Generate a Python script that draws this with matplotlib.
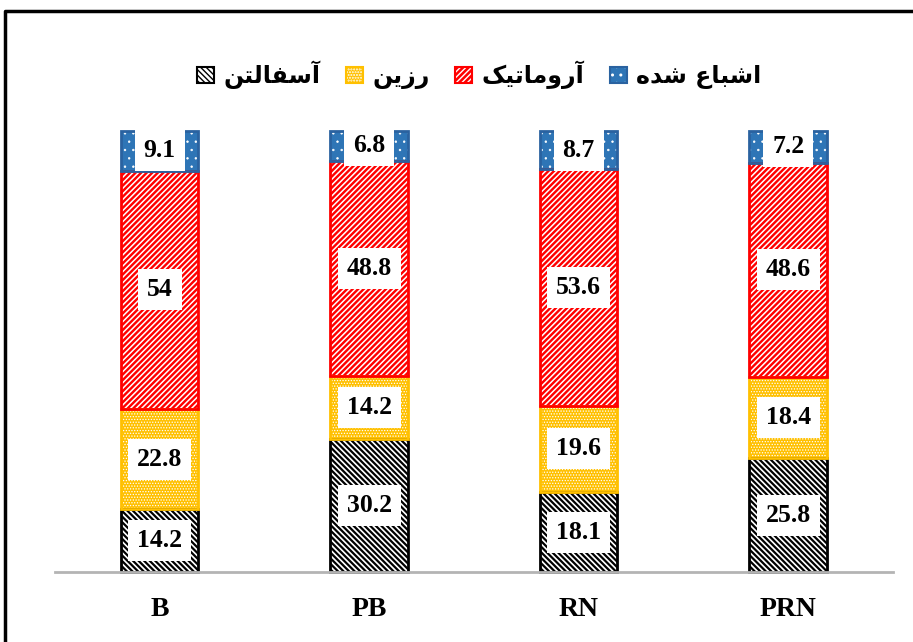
import matplotlib
matplotlib.use("Agg")
import matplotlib.pyplot as plt
import numpy as np
from matplotlib.patches import Patch
from matplotlib.lines import Line2D
from matplotlib.legend_handler import HandlerTuple

# ---------------- data ----------------
categories = ['B', 'PB', 'RN', 'PRN']
asphaltene = [14.2, 30.2, 18.1, 25.8]
resin = [22.8, 14.2, 19.6, 18.4]
aromatic = [54, 48.8, 53.6, 48.6]
saturated = [9.1, 6.8, 8.7, 7.2]
series_names = ['آسفالتن', 'رزین', 'آروماتیک', 'اشباع شده']

# ---------------- minimal Arabic/Persian shaping (visual order) ----------------
FORMS = {
    'ا': (0xFE8D, 0xFE8E, None, None),
    'آ': (0xFE81, 0xFE82, None, None),
    'ش': (0xFEB5, 0xFEB6, 0xFEB7, 0xFEB8),
    'ب': (0xFE8F, 0xFE90, 0xFE91, 0xFE92),
    'ع': (0xFEC9, 0xFECA, 0xFECB, 0xFECC),
    'د': (0xFEA9, 0xFEAA, None, None),
    'ه': (0xFEE9, 0xFEEA, 0xFEEB, 0xFEEC),
    'ر': (0xFEAD, 0xFEAE, None, None),
    'و': (0xFEED, 0xFEEE, None, None),
    'م': (0xFEE1, 0xFEE2, 0xFEE3, 0xFEE4),
    'ت': (0xFE95, 0xFE96, 0xFE97, 0xFE98),
    'ی': (0xFBFC, 0xFBFD, 0xFBFE, 0xFBFF),
    'ک': (0xFB8E, 0xFB8F, 0xFB90, 0xFB91),
    'ز': (0xFEAF, 0xFEB0, None, None),
    'ن': (0xFEE5, 0xFEE6, 0xFEE7, 0xFEE8),
    'س': (0xFEB1, 0xFEB2, 0xFEB3, 0xFEB4),
    'ف': (0xFED1, 0xFED2, 0xFED3, 0xFED4),
    'ل': (0xFEDD, 0xFEDE, 0xFEDF, 0xFEE0),
}


def shape(text):
    out = []
    for i, ch in enumerate(text):
        if ch not in FORMS:
            out.append(ch)
            continue
        prev = text[i - 1] if i > 0 else None
        nxt = text[i + 1] if i + 1 < len(text) else None
        jp = prev in FORMS and FORMS[prev][2] is not None
        jn = FORMS[ch][2] is not None and nxt in FORMS
        iso, fin, ini, med = FORMS[ch]
        if jp and jn:
            cp = med
        elif jp:
            cp = fin
        elif jn:
            cp = ini
        else:
            cp = iso
        out.append(chr(cp))
    return ''.join(reversed(out))


# ---------------- styles ----------------
styles = [
    dict(face='white', hatchc='black', edge='black', hatch='\\' * 6, hlw=1.6),
    dict(face='#FFC000', hatchc='white', edge='#FFC000', hatch='.' * 6, hlw=0.6),
    dict(face='#FF0000', hatchc='white', edge='#FF0000', hatch='/' * 6, hlw=1.1),
    dict(face='#2E75B6', hatchc='white', edge='#2A62A0', hatch='..', hlw=0.5),
]

fig = plt.figure(figsize=(9.13, 6.42), dpi=100)
ax = fig.add_axes([0.0602, 0.109, 0.9178, 0.687])

x = np.arange(len(categories))
width = 0.37
data = [asphaltene, resin, aromatic, saturated]
bottom = np.zeros(len(categories))
handles = []


def set_hlw(patches, lw):
    for p in patches:
        if hasattr(p, 'set_hatch_linewidth'):
            p.set_hatch_linewidth(lw)


for vals, st in zip(data, styles):
    vals = np.array(vals, dtype=float)
    with plt.rc_context({'hatch.linewidth': st['hlw']}):
        bars = ax.bar(x, vals, width, bottom=bottom, color=st['face'], edgecolor=st['hatchc'],
                      hatch=st['hatch'], linewidth=0, zorder=2, clip_on=False)
        set_hlw(bars, st['hlw'])
        h1 = Patch(facecolor=st['face'], edgecolor=st['hatchc'], hatch=st['hatch'], linewidth=0)
        set_hlw([h1], st['hlw'])
    ax.bar(x, vals, width, bottom=bottom, fill=False, edgecolor=st['edge'],
           linewidth=2, zorder=3, clip_on=False)
    for xi, b, v in zip(x, bottom, vals):
        ax.text(xi, b + v / 2, f'{v:g}', ha='center', va='center',
                fontsize=18.5, fontweight='bold', family='Liberation Serif',
                zorder=5,
                bbox=dict(boxstyle='square,pad=0.35', facecolor='white', edgecolor='none'))
    h2 = Patch(fill=False, edgecolor=st['edge'], linewidth=1.5)
    handles.append((h1, h2))
    bottom = bottom + vals

ax.set_xlim(-0.5, 3.5)
ax.set_ylim(0, 100)
ax.set_xticks(x)
ax.set_xticklabels(categories, fontsize=20, fontweight='bold', family='Liberation Serif')
ax.tick_params(axis='x', length=0, pad=18)
ax.set_yticks([])
for s in ['top', 'right', 'left']:
    ax.spines[s].set_visible(False)
ax.spines['bottom'].set_color('#B4B4B4')
ax.spines['bottom'].set_linewidth(2)
ax.spines['bottom'].set_zorder(6)

leg = fig.legend(handles, [shape(n) for n in series_names], loc='center',
                 bbox_to_anchor=(0.525, 0.883), ncol=4, frameon=False,
                 handler_map={tuple: HandlerTuple(ndivide=1)},
                 handlelength=0.7, handleheight=0.7, handletextpad=0.4,
                 columnspacing=1.1,
                 prop=dict(family='DejaVu Sans', weight='bold', size=17))

# outer border (left and top edges visible)
fig.add_artist(Line2D([5 / 913, 5 / 913, 1.0], [0.0, 1 - 11 / 642, 1 - 11 / 642],
                      transform=fig.transFigure, color='black', linewidth=2.5))

fig.savefig('out.png', dpi=100)
